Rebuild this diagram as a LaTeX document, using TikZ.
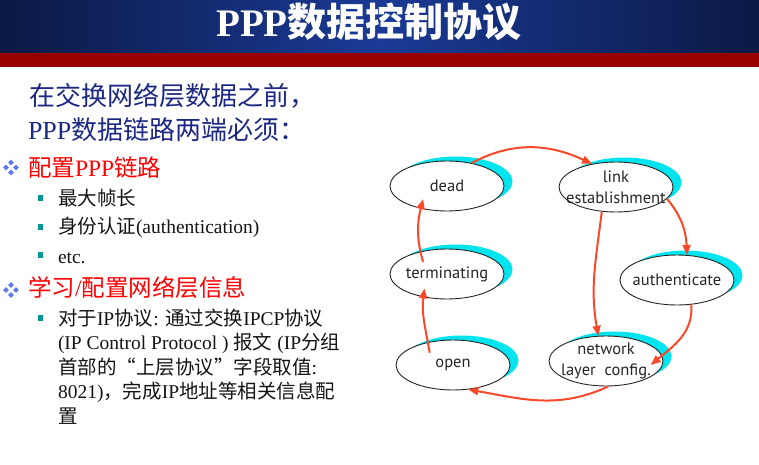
\documentclass[tikz,border=0pt]{standalone}
\usepackage{fontspec}
\setmainfont{Liberation Serif}
\newfontfamily\cjk{Noto Sans CJK SC}
\newfontfamily\diagfont{PT Sans}
\usetikzlibrary{shapes.geometric,arrows.meta,shadows}

\newcommand\zh[1]{{\cjk #1}}

\definecolor{hdrdark}{RGB}{11,25,68}
\definecolor{hdrlight}{RGB}{26,58,150}
\definecolor{hdrred}{RGB}{153,0,0}
\definecolor{introblue}{RGB}{28,40,130}
\definecolor{headred}{RGB}{255,0,0}
\definecolor{bulletblue}{RGB}{90,122,240}
\definecolor{bulletteal}{RGB}{0,150,150}
\definecolor{stcyan}{RGB}{0,228,240}
\definecolor{arrowred}{RGB}{250,72,40}
\definecolor{inktext}{RGB}{20,20,20}

\tikzset{
  txt/.style={anchor=base west, inner sep=0pt, outer sep=0pt},
  introtxt/.style={txt, text=introblue, font=\fontsize{26}{30}\selectfont},
  headtxt/.style={txt, text=headred, font=\fontsize{23.5}{28}\selectfont},
  itemtxt/.style={txt, text=inktext, font=\fontsize{19.5}{24}\selectfont},
  sqbullet/.style={fill=bulletteal, minimum size=5.5pt, inner sep=0pt, draw=none},
  dmdbullet/.pic={
    \foreach \dx/\dy in {0/-5,-5/0,5/0,0/5}
      \fill[bulletblue] (\dx,\dy) ++(0,-2.8) -- ++(2.8,2.8) -- ++(-2.8,2.8) -- ++(-2.8,-2.8) -- cycle;
  },
  state/.style={ellipse, draw=black!85, line width=0.9pt, fill=white,
    minimum width=114pt, minimum height=50pt, inner sep=0pt,
    general shadow={fill=stcyan, shadow xshift=8.5pt, shadow yshift=4.5pt}},
  statetext/.style={font=\diagfont\fontsize{16.5}{21}\selectfont, text=black!85, align=center, inner sep=0pt},
  conn/.style={draw=arrowred, line width=2pt, -{Triangle[length=10pt,width=8pt]}}
}

\begin{document}
\begin{tikzpicture}[x=1pt,y=-1pt]
\useasboundingbox (0,0) rectangle (759,465);

% header bar
\shade[left color=hdrdark, right color=hdrdark, middle color=hdrlight] (0,0) rectangle (759,53);
\fill[hdrred] (0,53) rectangle (759,67);
\node[anchor=base, inner sep=0pt, text=white, font=\bfseries\fontsize{39}{42}\selectfont] (title) at (369,37) {PPP\zh{数据控制协议}};

% left column text
\node[introtxt] (intro1) at (29,106) {\zh{在交换网络层数据之前，}};
\node[introtxt] (intro2) at (28,140) {PPP\zh{数据链路两端必须：}};

\pic at (11,167.5) {dmdbullet};
\node[headtxt] (head1) at (28,176) {\zh{配置}PPP\zh{链路}};
\node[sqbullet] (b1) at (40.5,198) {};
\node[itemtxt] (item1) at (58,205) {\zh{最大帧长}};
\node[sqbullet] (b2) at (40.5,227) {};
\node[itemtxt] (item2) at (58,233) {\zh{身份认证}(authentication)};
\node[sqbullet] (b3) at (40.5,255) {};
\node[itemtxt] (item3) at (58,263) {etc.};

\pic at (11,290) {dmdbullet};
\node[headtxt] (head2) at (28,296) {\zh{学习}/\zh{配置网络层信息}};
\node[sqbullet] (b4) at (40.5,318) {};
\node[itemtxt] (ip1) at (58,325) {\zh{对于}IP\zh{协议}: \zh{通过交换}IPCP\zh{协议}};
\node[itemtxt] (ip2) at (58,349.5) {(IP Control Protocol ) \zh{报文} (IP\zh{分组}};
\node[itemtxt] (ip3) at (58,374) {\zh{首部的“上层协议”字段取值}:};
\node[itemtxt] (ip4) at (58,398.5) {8021)\zh{，完成}IP\zh{地址等相关信息配}};
\node[itemtxt] (ip5) at (58,423) {\zh{置}};

% state diagram
\node[state, label={[statetext]center:dead}] (dead) at (447,186) {};
\node[state, label={[statetext]center:{link\\establishment}}] (link) at (616,187) {};
\node[state, label={[statetext]center:terminating}] (term) at (447,274) {};
\node[state, label={[statetext]center:authenticate}] (auth) at (677,280) {};
\node[state, label={[statetext]center:open}] (open) at (453,365) {};
\node[state, label={[statetext]center:{network\\layer~~config.}}] (net) at (606,361) {};

\draw[conn] (dead.43) to[out=28,in=155] (link.136);
\draw[conn] (link.-13) to[out=-50,in=93] (auth.68);
\draw[conn] (link.-120) to[out=-97,in=100] (net.107);
\draw[conn] (auth.-60) to[out=-85,in=40] ([xshift=-12pt]net.-4);
\draw[conn] (net.-85) to[out=-155,in=-10] (open.-58);
\draw[conn] ([yshift=-11pt]open.135) to[out=100,in=-97] ([yshift=9pt]term.-134);
\draw[conn] ([yshift=-11pt]term.136) to[out=106,in=-104] ([yshift=10pt]dead.-136);
\end{tikzpicture}
\end{document}
